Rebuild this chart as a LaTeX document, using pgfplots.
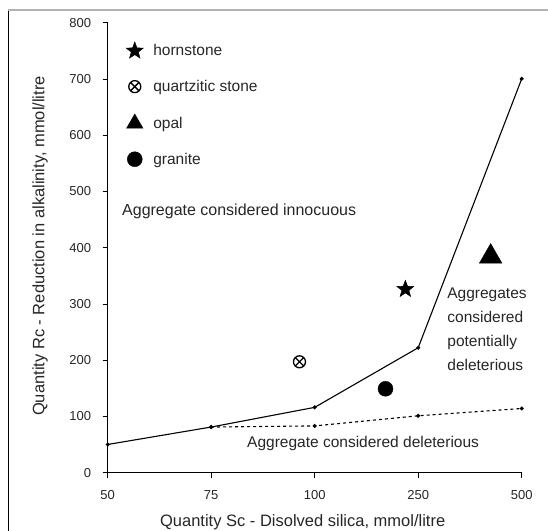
\documentclass[border=0pt]{standalone}
\usepackage{fontspec}
\setmainfont{Liberation Sans}
\usepackage{pgfplots}
\pgfplotsset{compat=1.18}
\pgfdeclareplotmark{fstar}{%
  \pgfpathmoveto{\pgfpointpolar{90}{\pgfplotmarksize}}%
  \pgfpathlineto{\pgfpointpolar{126}{0.42\pgfplotmarksize}}%
  \pgfpathlineto{\pgfpointpolar{162}{\pgfplotmarksize}}%
  \pgfpathlineto{\pgfpointpolar{198}{0.42\pgfplotmarksize}}%
  \pgfpathlineto{\pgfpointpolar{234}{\pgfplotmarksize}}%
  \pgfpathlineto{\pgfpointpolar{270}{0.42\pgfplotmarksize}}%
  \pgfpathlineto{\pgfpointpolar{306}{\pgfplotmarksize}}%
  \pgfpathlineto{\pgfpointpolar{342}{0.42\pgfplotmarksize}}%
  \pgfpathlineto{\pgfpointpolar{18}{\pgfplotmarksize}}%
  \pgfpathlineto{\pgfpointpolar{54}{0.42\pgfplotmarksize}}%
  \pgfpathclose\pgfusepathqfillstroke}
\begin{document}
\begin{tikzpicture}[x=1pt,y=1pt]
\useasboundingbox (-107.7,-57.4) rectangle (440.3,472.6);
\draw[black, line width=1.3pt] (-99,-70) -- (-99,462.6);
\draw[gray!60, line width=1.3pt] (-99.6,462.6) -- (450,462.6);
\begin{axis}[
  at={(0,0)}, anchor=south west,
  scale only axis, width=414pt, height=450pt,
  xmin=0, xmax=4, ymin=0, ymax=800,
  axis x line*=bottom, axis y line*=left,
  axis line style={black, line width=0.9pt},
  xtick={0,1,2,3,4}, xticklabels={50,75,100,250,500},
  ytick={0,100,...,800},
  tick align=outside, major tick length=5pt,
  tick style={black, line width=0.6pt},
  clip=false,
  /pgf/number format/assume math mode=true,
  ticklabel style={font=\fontsize{13}{15}\selectfont, text=black!85},
  xticklabel style={yshift=-9pt},
  yticklabel style={xshift=-8pt},
  xlabel={Quantity Sc - Disolved silica, mmol/litre},
  ylabel={Quantity Rc - Reduction in alkalinity, mmol/litre},
  every axis x label/.style={at={(axis description cs:0.471,-0.111)}, anchor=center, font=\fontsize{16.5}{18}\selectfont, text=black!85},
  every axis y label/.style={at={(axis description cs:-0.1635,0.5036)}, rotate=90, anchor=center, font=\fontsize{16.5}{18}\selectfont, text=black!85},
  legend style={at={(axis description cs:0.037,0.962)}, anchor=north west, draw=none, fill=none,
    font=\fontsize{15.5}{18}\selectfont, row sep=19pt, column sep=8pt, nodes={text=black!85}},
  legend cell align=left,
]
\addplot[forget plot, black, line width=1.1pt, mark=*, mark size=1.4pt] coordinates {(0,50) (1,81) (2,116) (3,222) (4,700)};
\addplot[forget plot, black, line width=1.1pt, dashed, mark=*, mark size=1.4pt, mark options={solid}] coordinates {(1,81) (2,83) (3,101) (4,114)};
\addplot[only marks, mark=fstar, mark size=9pt, black] coordinates {(2.876,326)};
\addlegendentry{hornstone}
\addplot[only marks, mark=otimes, mark size=6pt, black, line width=1.3pt] coordinates {(1.853,197)};
\addlegendentry{quartzitic stone}
\addplot[only marks, mark=triangle*, mark size=13pt, black,
  legend image code/.code={\draw[mark=triangle*, mark size=9.5pt, black] plot coordinates {(0.3cm,0)};}] coordinates {(3.70,384)};
\addlegendentry{opal}
\addplot[only marks, mark=*, mark size=7.5pt, black] coordinates {(2.684,149)};
\addlegendentry{granite}
\node[anchor=west, font=\fontsize{16}{18}\selectfont, text=black!85, inner sep=0pt] at (axis cs:0.138,465) {Aggregate considered innocuous};
\node[anchor=north west, align=left, font=\fontsize{15.5}{24}\selectfont, text=black!85, inner sep=0pt] at (axis cs:3.28,329) {Aggregates\\considered\\potentially\\deleterious};
\node[anchor=west, font=\fontsize{15.5}{18}\selectfont, text=black!85, inner sep=0pt] at (axis cs:1.346,51) {Aggregate considered deleterious};
\end{axis}
\end{tikzpicture}
\end{document}
